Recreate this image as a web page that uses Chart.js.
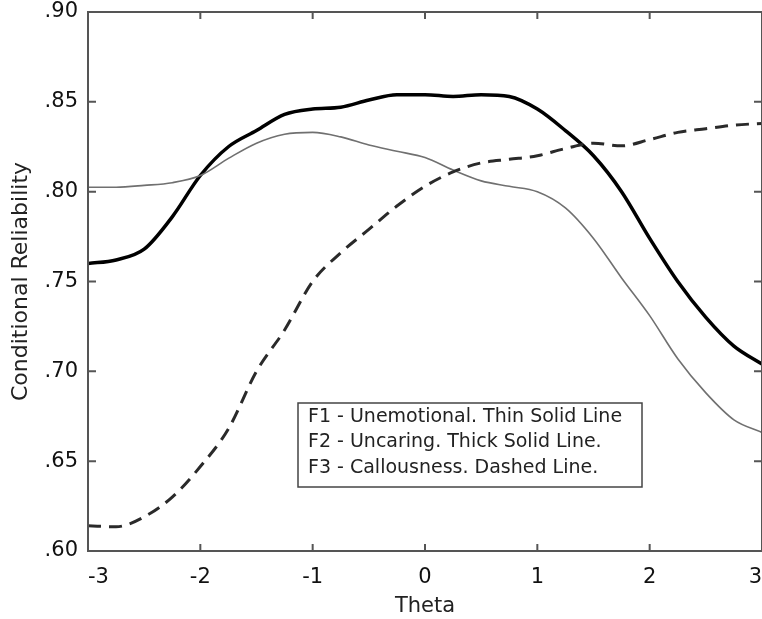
<!DOCTYPE html>
<html>
<head>
<meta charset="utf-8">
<script src="https://cdn.jsdelivr.net/npm/chart.js@4"></script>
<style>
  html, body { margin: 0; padding: 0; background: #fff; }
  #wrap { width: 762px; height: 619px; position: relative; }
</style>
</head>
<body>
<div id="wrap"><canvas id="myChart"></canvas></div>
<script>
// data
const thetas = [-3, -2.75, -2.5, -2.25, -2, -1.75, -1.5, -1.25, -1, -0.75, -0.5, -0.25, 0,
                0.25, 0.5, 0.75, 1, 1.25, 1.5, 1.75, 2, 2.25, 2.5, 2.75, 3];
const f1Values = [.8025, .8025, .8035, .805, .809, .8185, .827, .832, .833, .8305, .826, .8225, .819,
                  .812, .806, .803, .800, .791, .774, .752, .731, .707, .688, .673, .666];
const f2Values = [.760, .762, .768, .786, .809, .825, .834, .843, .846, .847, .851, .854, .854,
                  .853, .854, .853, .846, .834, .820, .800, .774, .750, .730, .714, .704];
const f3Values = [.614, .6135, .619, .630, .647, .668, .700, .723, .750, .766, .779, .792, .803,
                  .811, .816, .818, .820, .824, .827, .8255, .829, .833, .835, .837, .838];
const xTicks = [-3, -2, -1, 0, 1, 2, 3];
const yTicks = [.60, .65, .70, .75, .80, .85, .90];
const legendLines = ['F1 - Unemotional. Thin Solid Line', 'F2 - Uncaring. Thick Solid Line.', 'F3 - Callousness. Dashed Line.'];

const ctx = document.getElementById('myChart');
const FONT = '"DejaVu Sans", Verdana, sans-serif';

function pts(vals) {
  return thetas.map((t, i) => ({ x: t, y: vals[i] }));
}

// frame, inward ticks and the text box
const framePlugin = {
  id: 'frame',
  afterDatasetsDraw(chart) {
    const c = chart.ctx;
    const a = chart.chartArea;
    const xs = chart.scales.x, ys = chart.scales.y;
    c.save();
    c.strokeStyle = '#555';
    c.lineWidth = 2;
    c.strokeRect(a.left, a.top, a.right - a.left, a.bottom - a.top);
    c.beginPath();
    xTicks.forEach(v => {
      const px = xs.getPixelForValue(v);
      c.moveTo(px, a.bottom); c.lineTo(px, a.bottom - 7);
      c.moveTo(px, a.top); c.lineTo(px, a.top + 7);
    });
    yTicks.forEach(v => {
      const py = ys.getPixelForValue(v);
      c.moveTo(a.left, py); c.lineTo(a.left + 8, py);
      c.moveTo(a.right, py); c.lineTo(a.right - 8, py);
    });
    c.stroke();

    // box
    const bx = 298, by = 403, bw = 344, bh = 84;
    c.fillStyle = '#fff';
    c.fillRect(bx, by, bw, bh);
    c.strokeStyle = '#444';
    c.lineWidth = 1.5;
    c.strokeRect(bx, by, bw, bh);
    c.fillStyle = '#222';
    c.font = '19px ' + FONT;
    c.textBaseline = 'middle';
    legendLines.forEach((s, i) => c.fillText(s, bx + 10, by + 14 + i * 25.5));
    c.restore();
  }
};

new Chart(ctx, {
  type: 'line',
  data: {
    datasets: [
      {
        data: pts(f3Values),
        borderColor: '#2a2a2a',
        borderWidth: 3,
        borderDash: [13, 8],
        pointRadius: 0,
        cubicInterpolationMode: 'monotone'
      },
      {
        data: pts(f1Values),
        borderColor: '#707070',
        borderWidth: 1.6,
        pointRadius: 0,
        cubicInterpolationMode: 'monotone'
      },
      {
        data: pts(f2Values),
        borderColor: '#000',
        borderWidth: 3.5,
        pointRadius: 0,
        cubicInterpolationMode: 'monotone'
      }
    ]
  },
  options: {
    responsive: true,
    maintainAspectRatio: false,
    animation: false,
    layout: { padding: { top: 12, right: 0, left: 0, bottom: 0 } },
    plugins: {
      legend: { display: false },
      tooltip: { enabled: false }
    },
    scales: {
      x: {
        type: 'linear',
        min: -3,
        max: 3,
        afterBuildTicks: s => { s.ticks = xTicks.map(v => ({ value: v })); },
        afterFit: s => { s.height = 68; s.paddingLeft = 0; s.paddingRight = 0; },
        grid: { display: false, drawTicks: false },
        border: { display: false },
        ticks: {
          align: 'inner',
          padding: 14,
          color: '#111',
          font: { family: FONT, size: 21 }
        },
        title: {
          display: true,
          text: 'Theta',
          color: '#222',
          padding: { top: 0, bottom: 0 },
          font: { family: FONT, size: 21 }
        }
      },
      y: {
        min: 0.6,
        max: 0.9,
        afterBuildTicks: s => { s.ticks = yTicks.map(v => ({ value: v })); },
        afterFit: s => { s.width = 88; s.paddingTop = 0; s.paddingBottom = 0; },
        grid: { display: false, drawTicks: false },
        border: { display: false },
        ticks: {
          padding: 10,
          color: '#111',
          font: { family: FONT, size: 21 },
          callback: v => v.toFixed(2).replace(/^0/, '')
        },
        title: {
          display: true,
          text: 'Conditional Reliability',
          color: '#222',
          padding: { top: 8, bottom: 0 },
          font: { family: FONT, size: 22 }
        }
      }
    }
  },
  plugins: [framePlugin]
});
</script>
</body>
</html>
